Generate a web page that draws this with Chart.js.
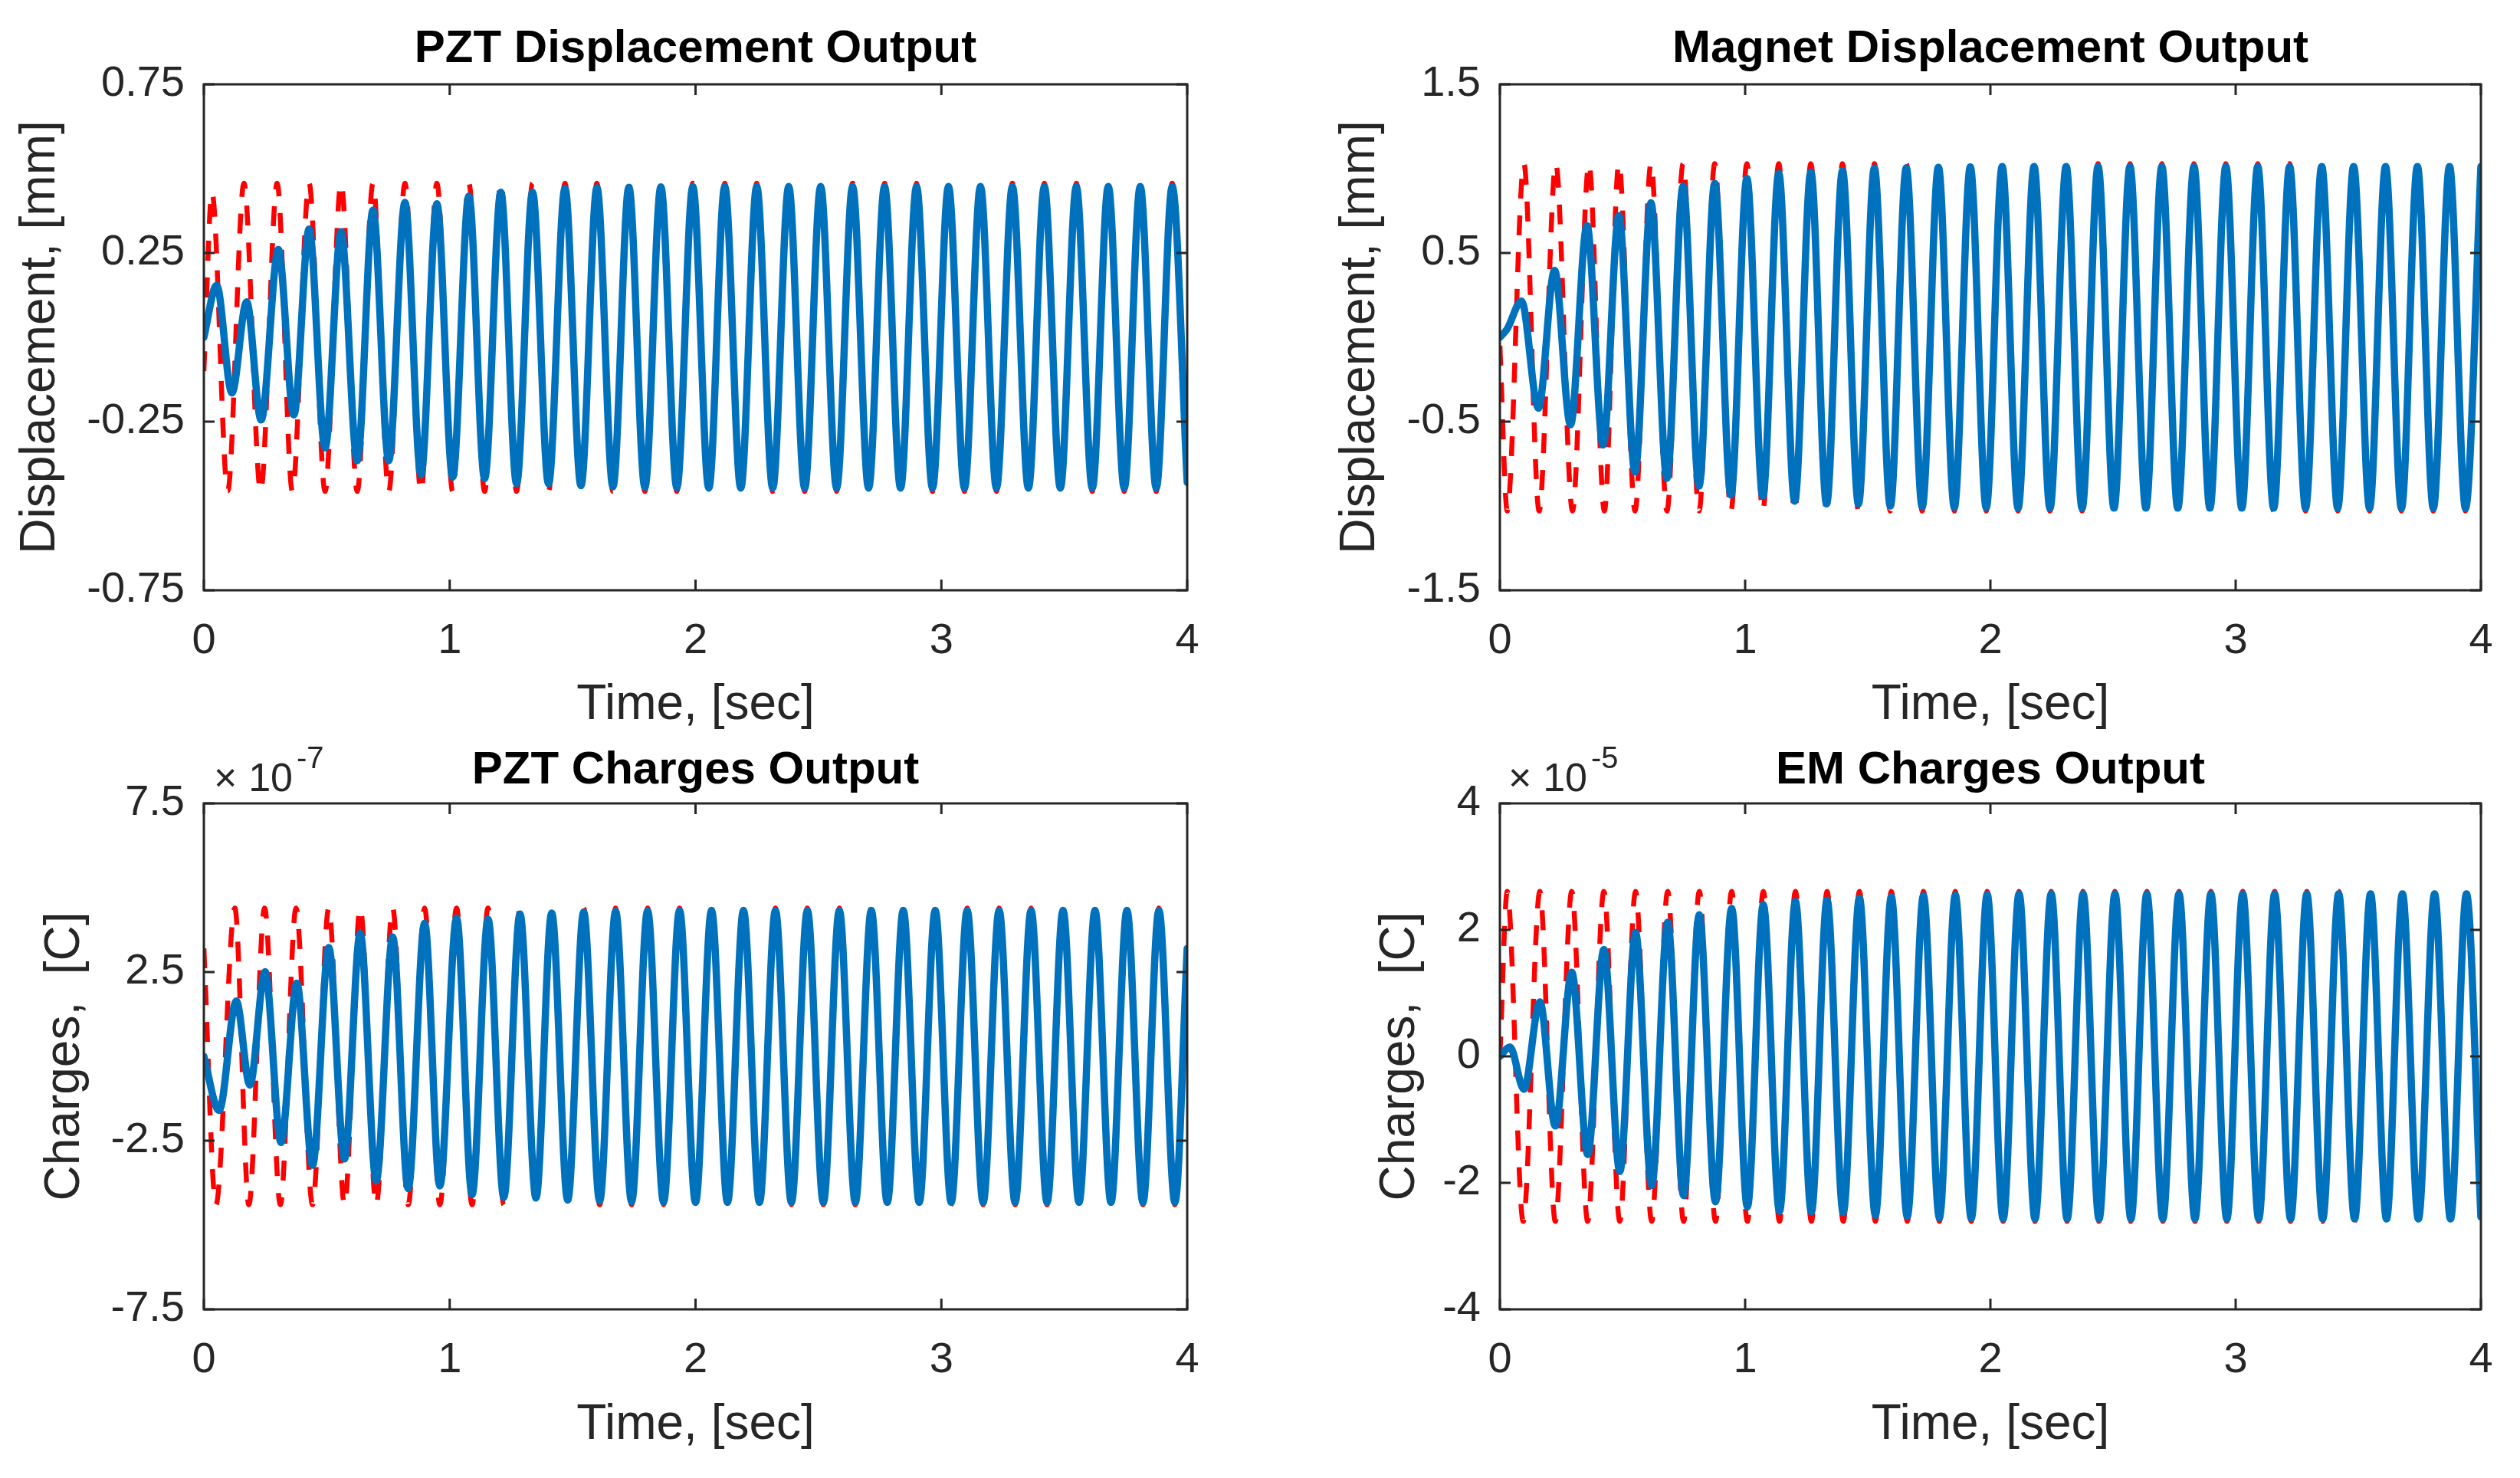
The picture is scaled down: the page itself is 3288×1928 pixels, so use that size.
<!DOCTYPE html>
<html><head><meta charset="utf-8">
<script src="https://cdn.jsdelivr.net/npm/chart.js@4.4.1/dist/chart.umd.min.js"></script>
<style>
html,body{margin:0;padding:0;background:#fff;overflow:hidden;width:3288px;height:1928px;}
canvas{position:absolute;}
</style></head><body>
<canvas id="cTL" width="1644" height="964" style="left:0px;top:0px;width:1644px;height:964px"></canvas>
<canvas id="cTR" width="1644" height="964" style="left:1644px;top:0px;width:1644px;height:964px"></canvas>
<canvas id="cBL" width="1644" height="964" style="left:0px;top:964px;width:1644px;height:964px"></canvas>
<canvas id="cBR" width="1644" height="964" style="left:1644px;top:964px;width:1644px;height:964px"></canvas>
<script>
// ---------- data (extrema of each trace, time in s) ----------
// PZT displacement [mm]
const tBlueTL = [0, 0.052, 0.114, 0.174, 0.233, 0.303, 0.366, 0.428, 0.493, 0.558,
 0.624, 0.688, 0.752, 0.818, 0.883, 0.948, 1.012, 1.078, 1.142, 1.208,
 1.272, 1.337, 1.402, 1.469, 1.534, 1.599, 1.664, 1.729, 1.794, 1.859,
 1.924, 1.989, 2.054, 2.119, 2.184, 2.249, 2.314, 2.379, 2.444, 2.509,
 2.574, 2.639, 2.704, 2.769, 2.834, 2.899, 2.964, 3.029, 3.094, 3.159,
 3.224, 3.289, 3.354, 3.419, 3.484, 3.549, 3.614, 3.679, 3.744, 3.809,
 3.874, 3.939, 4.0];
const vBlueTL = [0, 0.154, -0.165, 0.105, -0.245, 0.260, -0.230, 0.321, -0.328, 0.313,
 -0.366, 0.377, -0.366, 0.400, -0.408, 0.396, -0.415, 0.419, -0.419, 0.430,
 -0.434, 0.430, -0.434, 0.442, -0.440, 0.444, -0.443, 0.445, -0.445, 0.446,
 -0.446, 0.447, -0.447, 0.447, -0.447, 0.447, -0.447, 0.447, -0.447, 0.447,
 -0.447, 0.447, -0.447, 0.447, -0.447, 0.447, -0.447, 0.447, -0.447, 0.447,
 -0.447, 0.447, -0.447, 0.447, -0.447, 0.447, -0.447, 0.447, -0.447, 0.447,
 -0.447, 0.447, -0.430];
const tRedTL = [0, 0.033, 0.097, 0.163, 0.231, 0.298, 0.360].concat(tBlueTL.slice(7));
const vRedTL = [-0.100, 0.430, -0.455, 0.457, -0.457, 0.457, -0.457, 0.457, -0.457, 0.457,
 -0.457, 0.457, -0.457, 0.457, -0.457, 0.457, -0.457, 0.457, -0.457, 0.457,
 -0.457, 0.457, -0.457, 0.457, -0.457, 0.457, -0.457, 0.457, -0.457, 0.457,
 -0.457, 0.457, -0.457, 0.457, -0.457, 0.457, -0.457, 0.457, -0.457, 0.457,
 -0.457, 0.457, -0.457, 0.457, -0.457, 0.457, -0.457, 0.457, -0.457, 0.457,
 -0.457, 0.457, -0.457, 0.457, -0.457, 0.457, -0.457, 0.457, -0.457, 0.457,
 -0.457, 0.457, -0.440];

// Magnet displacement [mm]
const tBlueTR = [0, 0.030, 0.088, 0.157, 0.223, 0.288, 0.355, 0.421, 0.485, 0.551,
 0.616, 0.681, 0.747, 0.812, 0.876, 0.942, 1.007, 1.072, 1.137, 1.202,
 1.268, 1.332, 1.397, 1.462, 1.527, 1.592, 1.657, 1.722, 1.788, 1.853,
 1.918, 1.983, 2.048, 2.113, 2.178, 2.243, 2.309, 2.374, 2.439, 2.504,
 2.569, 2.634, 2.699, 2.764, 2.830, 2.895, 2.960, 3.025, 3.090, 3.155,
 3.220, 3.285, 3.351, 3.416, 3.481, 3.546, 3.611, 3.676, 3.741, 3.806,
 3.872, 3.937, 4.000];
const vBlueTR = [0, 0.050, 0.215, -0.420, 0.397, -0.518, 0.662, -0.639, 0.722, -0.798,
 0.798, -0.836, 0.897, -0.882, 0.912, -0.935, 0.942, -0.942, 0.972, -0.972,
 0.980, -0.988, 0.988, -0.988, 1.003, -1.000, 1.005, -1.005, 1.008, -1.008,
 1.010, -1.010, 1.012, -1.013, 1.013, -1.013, 1.013, -1.013, 1.013, -1.013,
 1.013, -1.013, 1.013, -1.013, 1.013, -1.013, 1.013, -1.013, 1.013, -1.013,
 1.013, -1.013, 1.013, -1.013, 1.013, -1.013, 1.013, -1.013, 1.013, -1.013,
 1.013, -1.013, 1.012];
const tRedTR = [0, 0.030, 0.098, 0.160, 0.228, 0.296, 0.363, 0.426].concat(tBlueTR.slice(8));
const vRedTR = [-0.050, -1.030, 1.030, -1.030, 1.030, -1.030, 1.030, -1.030, 1.030, -1.030,
 1.030, -1.030, 1.030, -1.030, 1.030, -1.030, 1.030, -1.030, 1.030, -1.030,
 1.030, -1.030, 1.030, -1.030, 1.030, -1.030, 1.030, -1.030, 1.030, -1.030,
 1.030, -1.030, 1.030, -1.030, 1.030, -1.030, 1.030, -1.030, 1.030, -1.030,
 1.030, -1.030, 1.030, -1.030, 1.030, -1.030, 1.030, -1.030, 1.030, -1.030,
 1.030, -1.030, 1.030, -1.030, 1.030, -1.030, 1.030, -1.030, 1.030, -1.030,
 1.030, -1.030, 1.030];

// PZT charges [x1e-7 C]
const tBlueBL = [0, 0.062, 0.132, 0.187, 0.249, 0.314, 0.378, 0.442, 0.508, 0.572,
 0.636, 0.701, 0.768, 0.831, 0.898, 0.960, 1.028, 1.091, 1.156, 1.220,
 1.286, 1.351, 1.415, 1.480, 1.545, 1.610, 1.675, 1.740, 1.805, 1.870,
 1.935, 2.000, 2.065, 2.130, 2.195, 2.260, 2.325, 2.390, 2.455, 2.520,
 2.585, 2.650, 2.715, 2.780, 2.845, 2.910, 2.975, 3.040, 3.105, 3.170,
 3.235, 3.300, 3.365, 3.430, 3.495, 3.560, 3.625, 3.690, 3.755, 3.820,
 3.885, 3.950, 4.000];
const vBlueBL = [0, -1.60, 1.64, -0.85, 2.51, -2.55, 2.17, -3.23, 3.23, -3.04,
 3.65, -3.69, 3.54, -3.92, 3.95, -3.84, 4.10, -4.10, 4.07, -4.18,
 4.22, -4.20, 4.25, -4.26, 4.28, -4.29, 4.30, -4.31, 4.32, -4.32,
 4.33, -4.33, 4.33, -4.33, 4.33, -4.33, 4.33, -4.33, 4.33, -4.33,
 4.33, -4.33, 4.33, -4.33, 4.33, -4.33, 4.33, -4.33, 4.33, -4.33,
 4.33, -4.33, 4.33, -4.33, 4.33, -4.33, 4.33, -4.33, 4.33, -4.33,
 4.33, -4.33, 3.20];
const tRedBL = [0, 0.049, 0.126, 0.183, 0.247, 0.311, 0.375].concat(tBlueBL.slice(7));
const vRedBL = [3.20, -4.40, 4.40, -4.40, 4.40, -4.40, 4.40, -4.40, 4.40, -4.40,
 4.40, -4.40, 4.40, -4.40, 4.40, -4.40, 4.40, -4.40, 4.40, -4.40,
 4.40, -4.40, 4.40, -4.40, 4.40, -4.40, 4.40, -4.40, 4.40, -4.40,
 4.40, -4.40, 4.40, -4.40, 4.40, -4.40, 4.40, -4.40, 4.40, -4.40,
 4.40, -4.40, 4.40, -4.40, 4.40, -4.40, 4.40, -4.40, 4.40, -4.40,
 4.40, -4.40, 4.40, -4.40, 4.40, -4.40, 4.40, -4.40, 4.40, -4.40,
 4.40, -4.40, 3.22];

// EM charges [x1e-5 C]
const tBlueBR = [0, 0.041, 0.098, 0.163, 0.226, 0.293, 0.358, 0.424, 0.489, 0.553,
 0.619, 0.684, 0.749, 0.813, 0.879, 0.945, 1.009, 1.074, 1.140, 1.205,
 1.270, 1.334, 1.400, 1.466, 1.531, 1.596, 1.661, 1.727, 1.792, 1.857,
 1.922, 1.987, 2.052, 2.117, 2.182, 2.248, 2.313, 2.378, 2.443, 2.508,
 2.573, 2.638, 2.703, 2.769, 2.834, 2.899, 2.964, 3.029, 3.094, 3.159,
 3.224, 3.290, 3.355, 3.420, 3.485, 3.550, 3.615, 3.680, 3.745, 3.811,
 3.876, 3.941, 4.000];
const vBlueBR = [0, 0.15, -0.52, 0.86, -1.10, 1.33, -1.55, 1.69, -1.82, 1.96,
 -2.04, 2.12, -2.20, 2.24, -2.30, 2.34, -2.38, 2.40, -2.45, 2.45,
 -2.46, 2.47, -2.47, 2.50, -2.51, 2.52, -2.53, 2.54, -2.55, 2.55,
 -2.56, 2.56, -2.57, 2.57, -2.57, 2.57, -2.57, 2.57, -2.57, 2.57,
 -2.57, 2.57, -2.57, 2.57, -2.57, 2.57, -2.57, 2.57, -2.57, 2.57,
 -2.57, 2.57, -2.57, 2.57, -2.57, 2.57, -2.57, 2.57, -2.57, 2.57,
 -2.57, 2.57, -2.54];
const tRedBR = [0, 0.030, 0.095].concat(tBlueBR.slice(3));
const vRedBR = [0, 2.61, -2.61, 2.61, -2.61, 2.61, -2.61, 2.61, -2.61, 2.61,
 -2.61, 2.61, -2.61, 2.61, -2.61, 2.61, -2.61, 2.61, -2.61, 2.61,
 -2.61, 2.61, -2.61, 2.61, -2.61, 2.61, -2.61, 2.61, -2.61, 2.61,
 -2.61, 2.61, -2.61, 2.61, -2.61, 2.61, -2.61, 2.61, -2.61, 2.61,
 -2.61, 2.61, -2.61, 2.61, -2.61, 2.61, -2.61, 2.61, -2.61, 2.61,
 -2.61, 2.61, -2.61, 2.61, -2.61, 2.61, -2.61, 2.61, -2.61, 2.61,
 -2.61, 2.61, -2.58];

// axis ticks / labels
const xTicks = [0, 1, 2, 3, 4];
const titles = ['PZT Displacement Output', 'Magnet Displacement Output', 'PZT Charges Output', 'EM Charges Output'];
const yLabels = ['Displacement, [mm]', 'Displacement, [mm]', 'Charges,  [C]', 'Charges,  [C]'];
const xLabel = 'Time, [sec]';
const yRanges = [[-0.75, 0.75, 0.5], [-1.5, 1.5, 1], [-7.5, 7.5, 5], [-4, 4, 2]];
const yExponents = [null, null, '-7', '-5'];

// ---------- rendering ----------
const INK = '#262626';
const FONT = "'Liberation Sans', Arial, Helvetica, sans-serif";
Chart.defaults.font.family = FONT;
Chart.defaults.color = INK;

const boxPlugin = {
  id: 'matlabBox',
  afterDatasetsDraw(chart, args, opts) {
    const ctx = chart.ctx, a = chart.chartArea, x = chart.scales.x, y = chart.scales.y;
    ctx.save();
    ctx.strokeStyle = INK;
    ctx.lineWidth = 3;
    ctx.setLineDash([]);
    ctx.strokeRect(a.left, a.top, a.right - a.left, a.bottom - a.top);
    const L = 14;
    ctx.beginPath();
    x.ticks.forEach(t => {
      const px = x.getPixelForValue(t.value);
      ctx.moveTo(px, a.bottom); ctx.lineTo(px, a.bottom - L);
      ctx.moveTo(px, a.top); ctx.lineTo(px, a.top + L);
    });
    y.ticks.forEach(t => {
      const py = y.getPixelForValue(t.value);
      ctx.moveTo(a.left, py); ctx.lineTo(a.left + L, py);
      ctx.moveTo(a.right, py); ctx.lineTo(a.right - L, py);
    });
    ctx.stroke();
    if (opts && opts.exp) {
      ctx.fillStyle = INK;
      ctx.textAlign = 'left';
      ctx.textBaseline = 'alphabetic';
      ctx.font = '52px ' + FONT;
      const x0 = a.left + opts.dx;
      ctx.fillText('\u00d7', x0 + 6, a.top - 16);
      ctx.textAlign = 'right';
      ctx.fillText('10', x0 + 109, a.top - 16);
      ctx.textAlign = 'left';
      ctx.font = '40px ' + FONT;
      ctx.fillText(opts.exp, x0 + 114, a.top - 46);
    }
    ctx.restore();
  }
};

function pts(ts, vs) { return ts.map((t, i) => ({x: t, y: vs[i]})); }

function makeChart(id, k, tb, vb, tr, vr, L) {
  const yr = yRanges[k];
  return new Chart(document.getElementById(id), {
    type: 'line',
    data: {
      datasets: [
        { data: pts(tb, vb), borderColor: '#0072BD', borderWidth: 9.5, pointRadius: 0,
          cubicInterpolationMode: 'monotone', fill: false, borderJoinStyle: 'round', borderCapStyle: 'round' },
        { data: pts(tr, vr), borderColor: '#FF0000', borderWidth: 6.5, borderDash: [26, 22], pointRadius: 0,
          cubicInterpolationMode: 'monotone', fill: false, borderCapStyle: 'butt' }
      ]
    },
    options: {
      responsive: false, animation: false, devicePixelRatio: 1,
      layout: { padding: { left: 0, top: 0, right: L.padR, bottom: 0 } },
      plugins: {
        legend: { display: false }, tooltip: { enabled: false },
        title: { display: true, text: titles[k], fullSize: false, color: '#000000',
                 font: { size: 60, weight: 'bold', family: FONT },
                 padding: { top: L.tTop, bottom: L.tBot } },
        matlabBox: { exp: yExponents[k], dx: L.expDx }
      },
      scales: {
        x: { type: 'linear', min: xTicks[0], max: xTicks[xTicks.length - 1],
             afterBuildTicks: s => { s.ticks = xTicks.map(v => ({value: v})); },
             ticks: { padding: 33, font: { size: 56 }, color: INK, maxRotation: 0,
                      callback: v => String(v) },
             grid: { display: false, drawTicks: false }, border: { display: false },
             title: { display: true, text: xLabel, color: INK, font: { size: 64 },
                      padding: { top: 0, bottom: L.xtPad } },
             afterFit: s => { s.height = L.xH; } },
        y: { type: 'linear', min: yr[0], max: yr[1],
             ticks: { stepSize: yr[2], padding: 25, font: { size: 56 }, color: INK,
                      callback: v => String(Math.round(v * 100) / 100) },
             grid: { display: false, drawTicks: false }, border: { display: false },
             title: { display: true, text: yLabels[k], color: INK, font: { size: 64 },
                      padding: { top: L.ytPad, bottom: 0 } },
             afterFit: s => { s.width = L.yW; } }
      }
    },
    plugins: [boxPlugin]
  });
}

makeChart('cTL', 0, tBlueTL, vBlueTL, tRedTL, vRedTL,
  { padR: 95, tTop: 28, tBot: 10, xH: 194, xtPad: 5, yW: 266, ytPad: 15, expDx: 7 });
makeChart('cTR', 1, tBlueTR, vBlueTR, tRedTR, vRedTR,
  { padR: 51, tTop: 28, tBot: 10, xH: 194, xtPad: 5, yW: 313, ytPad: 93, expDx: 5 });
makeChart('cBL', 2, tBlueBL, vBlueBL, tRedBL, vRedBL,
  { padR: 95, tTop: 5, tBot: 7, xH: 220, xtPad: 30, yW: 266, ytPad: 47, expDx: 7 });
makeChart('cBR', 3, tBlueBR, vBlueBR, tRedBR, vRedBR,
  { padR: 51, tTop: 5, tBot: 7, xH: 220, xtPad: 30, yW: 313, ytPad: 145, expDx: 5 });
</script>
</body></html>
